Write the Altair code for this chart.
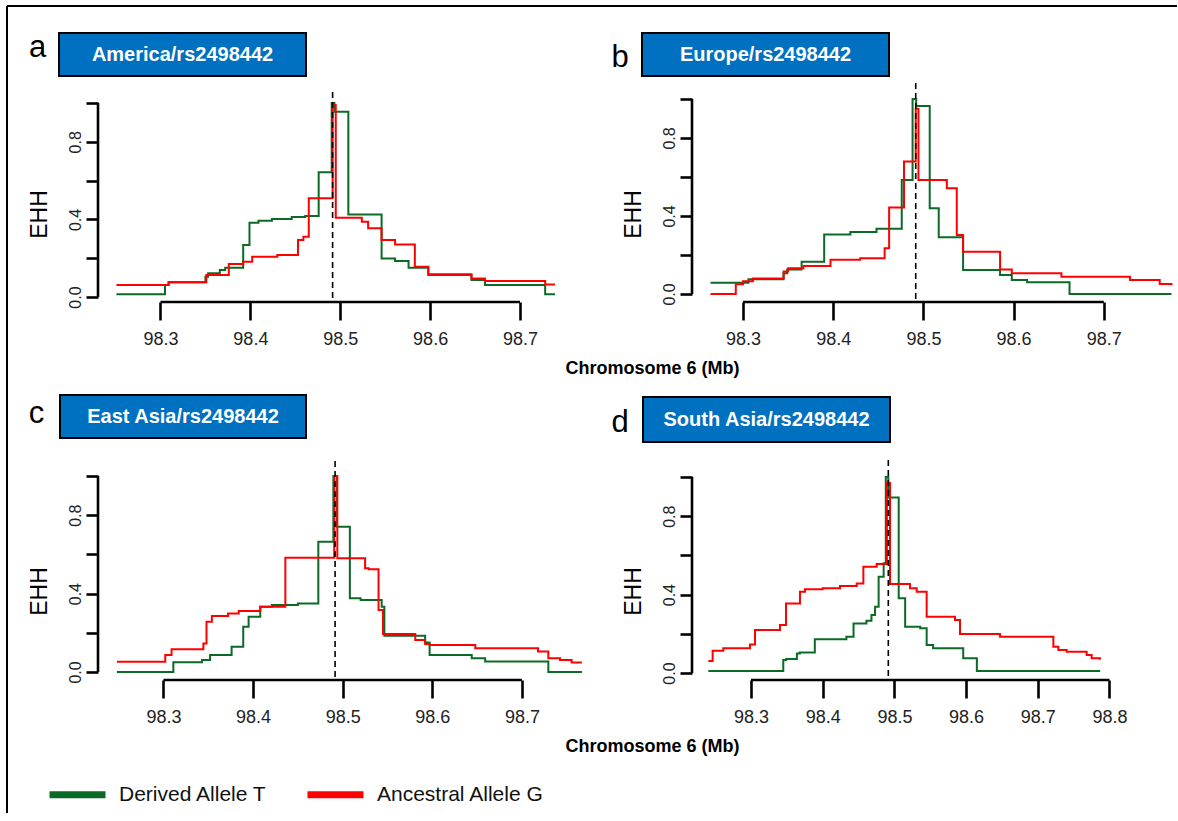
import altair as alt
import pandas as pd

# ------------------------------------------------------------------ data
CORE_SNP_MB = 98.4915
Y_TICKS = [0.0, 0.2, 0.4, 0.6, 0.8, 1.0]
X_TICKS_ABC = [98.3, 98.4, 98.5, 98.6, 98.7]
X_TICKS_D = [98.3, 98.4, 98.5, 98.6, 98.7, 98.8]
ALLELES = ["Derived Allele T", "Ancestral Allele G"]
ALLELE_COLORS = ["#0a6a26", "#ff0000"]
PANEL_LETTERS = ["a", "b", "c", "d"]
PANEL_TITLES = ["America/rs2498442", "Europe/rs2498442",
                "East Asia/rs2498442", "South Asia/rs2498442"]
X_AXIS_TITLE = "Chromosome 6 (Mb)"
Y_AXIS_TITLE = "EHH"

AMERICA_DERIVED_MB = [98.251, 98.305, 98.309, 98.350, 98.353, 98.366, 98.372, 98.392, 98.399,
                      98.409, 98.424, 98.446, 98.461, 98.476, 98.4905, 98.4935, 98.509, 98.546,
                      98.561, 98.576, 98.598, 98.646, 98.661, 98.728, 98.739]
AMERICA_DERIVED_EHH = [0.014, 0.062, 0.076, 0.105, 0.122, 0.139, 0.151, 0.268, 0.383,
                       0.393, 0.402, 0.412, 0.418, 0.643, 1.0, 0.955, 0.425, 0.199,
                       0.186, 0.151, 0.117, 0.088, 0.062, 0.014, 0.014]
AMERICA_ANCESTRAL_MB = [98.251, 98.309, 98.351, 98.376, 98.392, 98.402, 98.430, 98.453, 98.459,
                        98.465, 98.4915, 98.495, 98.524, 98.531, 98.546, 98.561, 98.583, 98.598,
                        98.646, 98.661, 98.728, 98.739]
AMERICA_ANCESTRAL_EHH = [0.062, 0.076, 0.113, 0.170, 0.182, 0.208, 0.216, 0.294, 0.311,
                         0.509, 0.99, 0.409, 0.388, 0.354, 0.294, 0.271, 0.156, 0.113,
                         0.096, 0.082, 0.065, 0.065]

EUROPE_DERIVED_MB = [98.264, 98.306, 98.345, 98.349, 98.365, 98.390, 98.419, 98.448, 98.476,
                     98.488, 98.492, 98.507, 98.517, 98.544, 98.585, 98.598, 98.615, 98.662,
                     98.775]
EUROPE_DERIVED_EHH = [0.058, 0.075, 0.106, 0.126, 0.166, 0.305, 0.318, 0.335, 0.585,
                      1.0, 0.964, 0.440, 0.291, 0.123, 0.097, 0.072, 0.060, 0.0,
                      0.0]
EUROPE_ANCESTRAL_MB = [98.264, 98.292, 98.300, 98.311, 98.345, 98.350, 98.367, 98.397, 98.430,
                       98.457, 98.462, 98.4785, 98.4915, 98.4945, 98.526, 98.537, 98.544, 98.585,
                       98.598, 98.653, 98.729, 98.762, 98.775]
EUROPE_ANCESTRAL_EHH = [0.0, 0.05, 0.065, 0.08, 0.115, 0.132, 0.144, 0.175, 0.183,
                        0.234, 0.444, 0.679, 0.95, 0.585, 0.542, 0.303, 0.217, 0.126,
                        0.106, 0.089, 0.072, 0.051, 0.045]

EAST_ASIA_DERIVED_MB = [98.248, 98.311, 98.343, 98.352, 98.376, 98.389, 98.395, 98.408, 98.421,
                        98.450, 98.4728, 98.4896, 98.4933, 98.508, 98.520, 98.5435, 98.5465,
                        98.592, 98.597, 98.644, 98.659, 98.7295, 98.767]
EAST_ASIA_DERIVED_EHH = [0.0, 0.05, 0.061, 0.087, 0.129, 0.231, 0.282, 0.333, 0.342,
                         0.350, 0.665, 1.0, 0.741, 0.376, 0.367, 0.333, 0.185,
                         0.150, 0.087, 0.070, 0.053, 0.0, 0.0]
EAST_ASIA_ANCESTRAL_MB = [98.248, 98.302, 98.309, 98.3445, 98.348, 98.354, 98.372, 98.384,
                          98.408, 98.436, 98.4905, 98.494, 98.525, 98.529, 98.540, 98.545,
                          98.581, 98.592, 98.597, 98.648, 98.718, 98.7295, 98.7425, 98.7555,
                          98.767]
EAST_ASIA_ANCESTRAL_EHH = [0.052, 0.087, 0.116, 0.146, 0.257, 0.286, 0.299, 0.311,
                           0.333, 0.583, 1.0, 0.58, 0.529, 0.524, 0.316, 0.194,
                           0.163, 0.143, 0.138, 0.121, 0.104, 0.07, 0.061, 0.049,
                           0.049]

SOUTH_ASIA_DERIVED_MB = [98.2405, 98.345, 98.349, 98.364, 98.368, 98.389, 98.433, 98.443,
                         98.461, 98.468, 98.473, 98.478, 98.485, 98.488, 98.4915, 98.506,
                         98.515, 98.536, 98.545, 98.554, 98.596, 98.615, 98.787]
SOUTH_ASIA_DERIVED_EHH = [0.01, 0.066, 0.071, 0.10, 0.105, 0.172, 0.185, 0.253,
                          0.267, 0.296, 0.338, 0.491, 0.56, 1.0, 0.896, 0.381,
                          0.236, 0.228, 0.143, 0.126, 0.075, 0.01, 0.01]
SOUTH_ASIA_ANCESTRAL_MB = [98.2405, 98.2465, 98.2614, 98.2986, 98.3056, 98.3404, 98.3488,
                           98.3683, 98.3753, 98.400, 98.4241, 98.4474, 98.4567, 98.4753,
                           98.4895, 98.4939, 98.5218, 98.5311, 98.545, 98.5845, 98.5915,
                           98.6473, 98.7217, 98.7286, 98.7403, 98.7682, 98.7751, 98.7867]
SOUTH_ASIA_ANCESTRAL_EHH = [0.061, 0.114, 0.126, 0.146, 0.219, 0.245, 0.355,
                            0.415, 0.427, 0.432, 0.444, 0.457, 0.542, 0.556,
                            0.97, 0.454, 0.432, 0.415, 0.287, 0.27, 0.199,
                            0.185, 0.134, 0.117, 0.109, 0.092, 0.075, 0.068]

# ------------------------------------------------------------------ style / layout
NARROW = "Liberation Sans Narrow, Arial Narrow, Liberation Sans, Arial, sans-serif"
SANS = "Liberation Sans, Arial, Helvetica, sans-serif"
BOX_BLUE = "#0070c0"
CELL_W = 484

LAYOUT = {
    "a": dict(xdom=[98.23046, 98.76899], ydom=[-0.02577, 1.10309], height=219, dash_top=9,
              box=(-39, 208, -50, -7), letter=(-60.5, -26), xtitle=True, frame=True),
    "b": dict(xdom=[98.24346, 98.78004], ydom=[-0.04103, 1.08205], height=219, dash_top=0,
              box=(-50, 197, -50, -7), letter=(-72, -16), xtitle=False, frame=False),
    "c": dict(xdom=[98.2269, 98.76708], ydom=[-0.04082, 1.08163], height=220, dash_top=1,
              box=(-38, 208, -65, -22), letter=(-61.5, -37), xtitle=True, frame=False),
    "d": dict(xdom=[98.21771, 98.89275], ydom=[-0.03571, 1.08673], height=220, dash_top=0,
              box=(-49, 198, -63, -18), letter=(-72, -28), xtitle=False, frame=False),
}

Y_LABEL_EXPR = ("abs(datum.value - 0.2) < 0.001 || abs(datum.value - 0.6) < 0.001 || "
                "abs(datum.value - 1) < 0.001 ? '' : format(datum.value, '.1f')")

color_enc = alt.Color(
    "allele:N",
    scale=alt.Scale(domain=ALLELES, range=ALLELE_COLORS),
    legend=alt.Legend(
        title=None, orient="none", legendX=-52, legendY=680, direction="horizontal",
        symbolType="stroke", symbolSize=3136, symbolStrokeWidth=7,
        labelFont=NARROW, labelFontSize=21, labelColor="#111111", labelOffset=10,
        columnPadding=25, padding=0, labelLimit=400,
    ),
)


def make_panel(letter, title, der_mb, der_ehh, anc_mb, anc_ehh, xticks):
    L = LAYOUT[letter]
    H = L["height"]
    df = pd.DataFrame({
        "mb": list(der_mb) + list(anc_mb),
        "ehh": list(der_ehh) + list(anc_ehh),
        "allele": [ALLELES[0]] * len(der_mb) + [ALLELES[1]] * len(anc_mb),
    })
    xscale = alt.Scale(domain=L["xdom"], nice=False, zero=False)
    yscale = alt.Scale(domain=L["ydom"], nice=False, zero=False)
    if L["xtitle"]:
        xaxis = alt.Axis(values=xticks, format=".1f", tickSize=18, labelPadding=10,
                         labelFont=NARROW, labelFontSize=18, labelAngle=0,
                         title=X_AXIS_TITLE, titleX=554, titleY=71, titleAlign="center",
                         titleBaseline="alphabetic", titleFont=SANS, titleFontSize=18,
                         titleFontWeight="bold", titleColor="black")
    else:
        xaxis = alt.Axis(values=xticks, format=".1f", tickSize=18, labelPadding=10,
                         labelFont=NARROW, labelFontSize=18, labelAngle=0, title=None)
    yaxis = alt.Axis(values=Y_TICKS, labelExpr=Y_LABEL_EXPR, tickSize=12, labelPadding=3,
                     labelAngle=270, labelAlign="center", labelBaseline="bottom",
                     labelFont=SANS, labelFontSize=16,
                     title=Y_AXIS_TITLE, titleAngle=270, titleX=-59, titleY=131,
                     titleAlign="center", titleBaseline="middle", titleFont=SANS,
                     titleFontSize=23, titleFontWeight="normal", titleColor="black")

    def X(field):
        return alt.X(field, type="quantitative", scale=xscale, axis=xaxis)

    def Y(field):
        return alt.Y(field, type="quantitative", scale=yscale, axis=yaxis)

    base = alt.Chart(df)
    green = base.transform_filter(alt.datum.allele == ALLELES[0]).mark_line(
        interpolate="step-after", strokeWidth=2).encode(x=X("mb"), y=Y("ehh"), color=color_enc)
    red = base.transform_filter(alt.datum.allele == ALLELES[1]).mark_line(
        interpolate="step-after", strokeWidth=2).encode(x=X("mb"), y=Y("ehh"), color=color_enc)

    core = alt.Chart(pd.DataFrame({"mb": [CORE_SNP_MB]})).mark_rule(
        color="black", strokeWidth=1.6, strokeDash=[6, 4]).encode(
        x=X("mb"), y=alt.value(L["dash_top"]), y2=alt.value(H))

    xline = alt.Chart(pd.DataFrame({"mb": [xticks[0]], "mb_end": [xticks[-1]]})).mark_rule(
        color="black", strokeWidth=2.6).encode(x=X("mb"), x2="mb_end:Q", y=alt.value(H))
    yline = alt.Chart(pd.DataFrame({"ehh": [Y_TICKS[0]], "ehh_end": [Y_TICKS[-1]]})).mark_rule(
        color="black", strokeWidth=2.6).encode(y=Y("ehh"), y2="ehh_end:Q", x=alt.value(0))

    bx0, bx1, by0, by1 = L["box"]
    lab = pd.DataFrame({"label": [title], "letter": [letter]})
    box = alt.Chart(lab).mark_rect(fill=BOX_BLUE, stroke="black", strokeWidth=2).encode(
        x=alt.value(bx0), x2=alt.value(bx1), y=alt.value(by0), y2=alt.value(by1))
    box_text = alt.Chart(lab).mark_text(
        font=NARROW, fontSize=20, fontWeight="bold", color="white",
        align="center", baseline="middle").encode(
        x=alt.value((bx0 + bx1) / 2), y=alt.value((by0 + by1) / 2), text="label:N")
    letter_text = alt.Chart(lab).mark_text(
        font=NARROW, fontSize=31, color="black", align="center", baseline="alphabetic").encode(
        x=alt.value(L["letter"][0]), y=alt.value(L["letter"][1]), text="letter:N")

    layers = [green, red, core, xline, yline, box, box_text, letter_text]
    if L["frame"]:
        one = pd.DataFrame({"k": [0]})
        top = alt.Chart(one).mark_rule(color="black", strokeWidth=2).encode(
            x=alt.value(-91), x2=alt.value(1079), y=alt.value(-77))
        left = alt.Chart(one).mark_rule(color="black", strokeWidth=2).encode(
            x=alt.value(-91), y=alt.value(-77), y2=alt.value(730))
        layers += [top, left]
    return alt.layer(*layers).properties(width=CELL_W, height=H)


pa = make_panel("a", PANEL_TITLES[0], AMERICA_DERIVED_MB, AMERICA_DERIVED_EHH,
                AMERICA_ANCESTRAL_MB, AMERICA_ANCESTRAL_EHH, X_TICKS_ABC)
pb = make_panel("b", PANEL_TITLES[1], EUROPE_DERIVED_MB, EUROPE_DERIVED_EHH,
                EUROPE_ANCESTRAL_MB, EUROPE_ANCESTRAL_EHH, X_TICKS_ABC)
pc = make_panel("c", PANEL_TITLES[2], EAST_ASIA_DERIVED_MB, EAST_ASIA_DERIVED_EHH,
                EAST_ASIA_ANCESTRAL_MB, EAST_ASIA_ANCESTRAL_EHH, X_TICKS_ABC)
pd_ = make_panel("d", PANEL_TITLES[3], SOUTH_ASIA_DERIVED_MB, SOUTH_ASIA_DERIVED_EHH,
                 SOUTH_ASIA_ANCESTRAL_MB, SOUTH_ASIA_ANCESTRAL_EHH, X_TICKS_D)

chart = alt.concat(
    pa, pb, pc, pd_, columns=2, spacing={"row": 158, "column": 110},
    bounds="flush", align="each",
).properties(
    padding={"left": 6, "top": 5, "right": 0, "bottom": 0},
    background="white",
).configure_view(
    strokeWidth=0,
).configure_axis(
    domain=False, grid=False, ticks=True, tickColor="black", tickWidth=2.6,
    labelColor="#222222",
)

chart.save("out.html", embed_options={"renderer": "svg", "actions": False})
